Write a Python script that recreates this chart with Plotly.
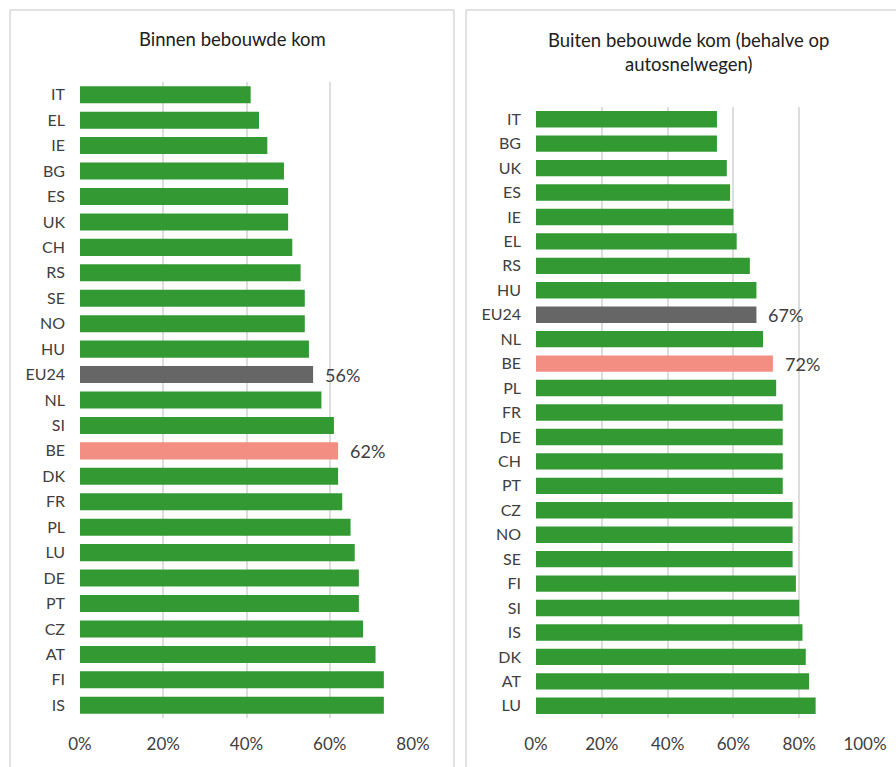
import plotly.graph_objects as go

W, H = 896, 767

# Left panel: Binnen bebouwde kom
cats_in = ["IT", "EL", "IE", "BG", "ES", "UK", "CH", "RS", "SE", "NO", "HU", "EU24", "NL",
           "SI", "BE", "DK", "FR", "PL", "LU", "DE", "PT", "CZ", "AT", "FI", "IS"]
vals_in = [0.41, 0.43, 0.45, 0.49, 0.50, 0.50, 0.51, 0.53, 0.54, 0.54, 0.55, 0.56, 0.58,
           0.61, 0.62, 0.62, 0.63, 0.65, 0.66, 0.67, 0.67, 0.68, 0.71, 0.73, 0.73]

# Right panel: Buiten bebouwde kom (behalve op autosnelwegen)
cats_out = ["IT", "BG", "UK", "ES", "IE", "EL", "RS", "HU", "EU24", "NL", "BE", "PL", "FR",
            "DE", "CH", "PT", "CZ", "NO", "SE", "FI", "SI", "IS", "DK", "AT", "LU"]
vals_out = [0.55, 0.55, 0.58, 0.59, 0.60, 0.61, 0.65, 0.67, 0.67, 0.69, 0.72, 0.73, 0.75,
            0.75, 0.75, 0.75, 0.78, 0.78, 0.78, 0.79, 0.80, 0.81, 0.82, 0.83, 0.85]

labelled = ["EU24", "BE"]
title_in = "Binnen bebouwde kom"
title_out = "Buiten bebouwde kom (behalve op<br>autosnelwegen)"
ticks_in = [0, 0.2, 0.4, 0.6, 0.8]
ticks_out = [0, 0.2, 0.4, 0.6, 0.8, 1.0]

GREEN = "#339933"
GREY = "#666666"
SALMON = "#F28E82"
FONT = "Lato"
TXT = "#404040"


def colors(cats):
    return [GREY if c == "EU24" else SALMON if c == "BE" else GREEN for c in cats]


def px_x(p):
    return p / W


def px_y(p):
    return 1 - p / H


fig = go.Figure()
fig.add_trace(go.Bar(x=vals_in, y=cats_in, orientation="h", marker=dict(color=colors(cats_in), line=dict(width=0)),
                     xaxis="x", yaxis="y", showlegend=False, hoverinfo="x+y"))
fig.add_trace(go.Bar(x=vals_out, y=cats_out, orientation="h", marker=dict(color=colors(cats_out), line=dict(width=0)),
                     xaxis="x2", yaxis="y2", showlegend=False, hoverinfo="x+y"))

annotations = []
for cats, vals, xr, yr in [(cats_in, vals_in, "x", "y"), (cats_out, vals_out, "x2", "y2")]:
    for c, v in zip(cats, vals):
        if c in labelled:
            annotations.append(dict(x=v, y=c, xref=xr, yref=yr, text=f"{round(v*100)}%",
                                    showarrow=False, xanchor="left", xshift=10,
                                    font=dict(family=FONT, size=18, color=TXT)))

annotations.append(dict(x=px_x(232), y=px_y(39), xref="paper", yref="paper", text=title_in,
                        showarrow=False, xanchor="center", yanchor="middle",
                        font=dict(family=FONT, size=18.5, color="#202020")))
annotations.append(dict(x=px_x(688), y=px_y(52), xref="paper", yref="paper", text=title_out,
                        showarrow=False, xanchor="center", yanchor="middle",
                        font=dict(family=FONT, size=18.5, color="#202020")))

common_x = dict(tickformat=".0%", showgrid=True, gridcolor="#DDDDDD", gridwidth=1.5, zeroline=False,
                showline=False, ticks="", tickfont=dict(family=FONT, size=17, color=TXT),
                ticklabelstandoff=14, fixedrange=True, automargin=False)
common_y = dict(autorange="reversed", showgrid=False, zeroline=False, showline=False, ticks="",
                tickfont=dict(family=FONT, size=16, color=TXT), ticklabelstandoff=14, fixedrange=True,
                automargin=False)

fig.update_layout(
    width=W, height=H,
    margin=dict(l=0, r=0, t=0, b=0),
    paper_bgcolor="white", plot_bgcolor="white",
    bargap=0.33,
    xaxis=dict(domain=[px_x(80), px_x(413)], range=[0, 0.8], tickvals=ticks_in, anchor="y", **common_x),
    yaxis=dict(domain=[px_y(718), px_y(82)], anchor="x", **common_y),
    xaxis2=dict(domain=[px_x(536), px_x(865)], range=[0, 1.0], tickvals=ticks_out, anchor="y2", **common_x),
    yaxis2=dict(domain=[px_y(718), px_y(107)], anchor="x2", **common_y),
    annotations=annotations,
    shapes=[
        dict(type="rect", xref="paper", yref="paper", x0=px_x(10), x1=px_x(454), y0=px_y(780), y1=px_y(10),
             line=dict(color="#D9D9D9", width=1.5), fillcolor="rgba(0,0,0,0)", layer="below"),
        dict(type="rect", xref="paper", yref="paper", x0=px_x(466), x1=px_x(910), y0=px_y(780), y1=px_y(10),
             line=dict(color="#D9D9D9", width=1.5), fillcolor="rgba(0,0,0,0)", layer="below"),
    ],
)

fig.write_html("out.html", config={"displayModeBar": False},
               post_script="document.body.style.margin='0';document.body.style.overflow='hidden';")
